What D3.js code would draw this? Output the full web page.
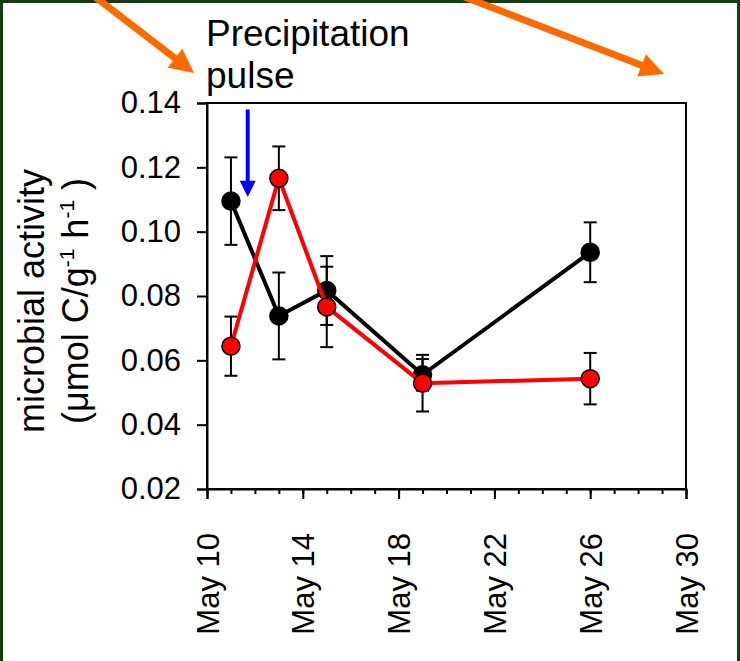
<!DOCTYPE html>
<html>
<head>
<meta charset="utf-8">
<script src="https://d3js.org/d3.v7.min.js"></script>
<style>
  html, body { margin: 0; padding: 0; background: #fff; }
  svg { display: block; font-family: Arial, "Liberation Sans", sans-serif; }
</style>
</head>
<body>
<svg id="chart" width="740" height="661"></svg>
<script>
// sampling days (day of May)
var days = [11, 13, 15, 19, 26];

// microbial activity, umol C / g / h, with error bar half-widths
var blackVals = [0.1095, 0.0738, 0.0817, 0.0555, 0.0936];
var blackErr = [0.0136, 0.0135, 0.0107, 0.0049, 0.0093];
var redVals = [0.0644, 0.1166, 0.0766, 0.0529, 0.0543];
var redErr = [0.0092, 0.0099, 0.0125, 0.0088, 0.0080];

var xTicks = [10, 14, 18, 22, 26, 30];
var yTicks = [0.02, 0.04, 0.06, 0.08, 0.10, 0.12, 0.14];
var pulseDay = 11.7;

var svg = d3.select("#chart");
var pLeft = 207, pRight = 686, pTop = 103, pBottom = 489;

var x = d3.scaleLinear().domain([10, 30]).range([pLeft, pRight]);
var y = d3.scaleLinear().domain([0.02, 0.14]).range([pBottom, pTop]);

// green slide border
svg.append("rect")
    .attr("x", 1.5).attr("y", 1.5)
    .attr("width", 737).attr("height", 662)
    .attr("fill", "none")
    .attr("stroke", "#143c12")
    .attr("stroke-width", 3);

// orange arrows pointing off to the neighbouring panels
function arrow(x1, y1, x2, y2, col, w, hl, hw) {
    var dx = x2 - x1, dy = y2 - y1, len = Math.sqrt(dx * dx + dy * dy);
    var ux = dx / len, uy = dy / len;
    var bx = x2 - ux * hl, by = y2 - uy * hl;
    svg.append("line")
        .attr("x1", x1).attr("y1", y1)
        .attr("x2", bx + ux * 2).attr("y2", by + uy * 2)
        .attr("stroke", col).attr("stroke-width", w);
    svg.append("path")
        .attr("d", "M" + x2 + "," + y2 +
            "L" + (bx - uy * hw) + "," + (by + ux * hw) +
            "L" + (bx + uy * hw) + "," + (by - ux * hw) + "Z")
        .attr("fill", col);
}
arrow(94, -4, 194, 73, "#ff6a00", 7, 24, 12);
arrow(462, -4, 664, 74, "#ff6a00", 7, 24, 12);

// annotation text
var note = svg.append("text")
    .attr("font-size", 37)
    .attr("fill", "#000");
note.append("tspan").attr("x", pLeft - 1).attr("y", 46).text("Precipitation");
note.append("tspan").attr("x", pLeft - 1).attr("y", 88).text("pulse");

// plot frame
svg.append("rect")
    .attr("x", pLeft).attr("y", pTop)
    .attr("width", pRight - pLeft).attr("height", pBottom - pTop)
    .attr("fill", "none")
    .attr("stroke", "#000")
    .attr("stroke-width", 2);

// y axis
var yAxis = svg.append("g")
    .attr("transform", "translate(" + pLeft + ",0)")
    .call(d3.axisLeft(y).tickValues(yTicks).tickFormat(d3.format(".2f"))
        .tickSize(10).tickPadding(16));
yAxis.select(".domain").attr("stroke-width", 2);
yAxis.selectAll(".tick line").attr("stroke-width", 2);
yAxis.selectAll("text")
    .attr("font-size", 31)
    .attr("font-family", "Arial, 'Liberation Sans', sans-serif")
    .attr("fill", "#000");

// x axis: minor day ticks, then labelled major ticks
var xMinor = svg.append("g")
    .attr("transform", "translate(0," + pBottom + ")")
    .call(d3.axisBottom(x).tickValues(d3.range(10, 31)).tickFormat("").tickSize(5));
xMinor.select(".domain").remove();
xMinor.selectAll(".tick line").attr("stroke-width", 2);

var xAxis = svg.append("g")
    .attr("transform", "translate(0," + pBottom + ")")
    .call(d3.axisBottom(x).tickValues(xTicks).tickFormat(function(d) { return "May " + d; })
        .tickSize(10));
xAxis.select(".domain").attr("stroke-width", 2);
xAxis.selectAll(".tick line").attr("stroke-width", 2);
xAxis.selectAll("text")
    .attr("font-size", 31)
    .attr("font-family", "Arial, 'Liberation Sans', sans-serif")
    .attr("fill", "#000")
    .attr("transform", "rotate(-90)")
    .attr("text-anchor", "end")
    .attr("x", -44)
    .attr("y", 0)
    .attr("dy", "0.36em");

// y axis title
var yTitle = svg.append("text")
    .attr("transform", "translate(0,301) rotate(-90)")
    .attr("text-anchor", "middle")
    .attr("font-size", 36)
    .attr("fill", "#000");
yTitle.append("tspan").attr("x", 0).attr("y", 44).text("microbial activity");
var l2 = yTitle.append("tspan").attr("x", 0).attr("y", 88);
l2.text("(\u03bcmol C/g");
yTitle.append("tspan").attr("font-size", 21).attr("dy", -14).text("-1");
yTitle.append("tspan").attr("dy", 14).text(" h");
yTitle.append("tspan").attr("font-size", 21).attr("dy", -14).text("-1");
yTitle.append("tspan").attr("dy", 14).text(" )");

// precipitation pulse arrow
var px = x(pulseDay);
svg.append("line")
    .attr("x1", px).attr("y1", y(0.138))
    .attr("x2", px).attr("y2", y(0.1155))
    .attr("stroke", "#0000ff").attr("stroke-width", 4);
svg.append("path")
    .attr("d", "M" + (px - 8) + "," + y(0.1158) + "L" + (px + 8) + "," + y(0.1158) +
        "L" + px + "," + y(0.1108) + "Z")
    .attr("fill", "#0000ff");

// series
function drawSeries(vals, errs, col) {
    var pts = days.map(function(d, i) { return { d: d, v: vals[i], e: errs[i] }; });
    var g = svg.append("g");
    var eb = g.selectAll(".err").data(pts).enter().append("g")
        .attr("stroke", "#000").attr("stroke-width", 2);
    eb.append("line")
        .attr("x1", function(p) { return x(p.d); }).attr("x2", function(p) { return x(p.d); })
        .attr("y1", function(p) { return y(p.v + p.e); }).attr("y2", function(p) { return y(p.v - p.e); });
    eb.append("line")
        .attr("x1", function(p) { return x(p.d) - 6.5; }).attr("x2", function(p) { return x(p.d) + 6.5; })
        .attr("y1", function(p) { return y(p.v + p.e); }).attr("y2", function(p) { return y(p.v + p.e); });
    eb.append("line")
        .attr("x1", function(p) { return x(p.d) - 6.5; }).attr("x2", function(p) { return x(p.d) + 6.5; })
        .attr("y1", function(p) { return y(p.v - p.e); }).attr("y2", function(p) { return y(p.v - p.e); });

    g.append("path")
        .datum(pts)
        .attr("fill", "none")
        .attr("stroke", col)
        .attr("stroke-width", 4)
        .attr("d", d3.line().x(function(p) { return x(p.d); }).y(function(p) { return y(p.v); }));

    g.selectAll("circle").data(pts).enter().append("circle")
        .attr("cx", function(p) { return x(p.d); })
        .attr("cy", function(p) { return y(p.v); })
        .attr("r", 9)
        .attr("fill", col)
        .attr("stroke", "#000")
        .attr("stroke-width", 1.5);
}
drawSeries(blackVals, blackErr, "#000");
drawSeries(redVals, redErr, "#ff0000");
</script>
</body>
</html>
